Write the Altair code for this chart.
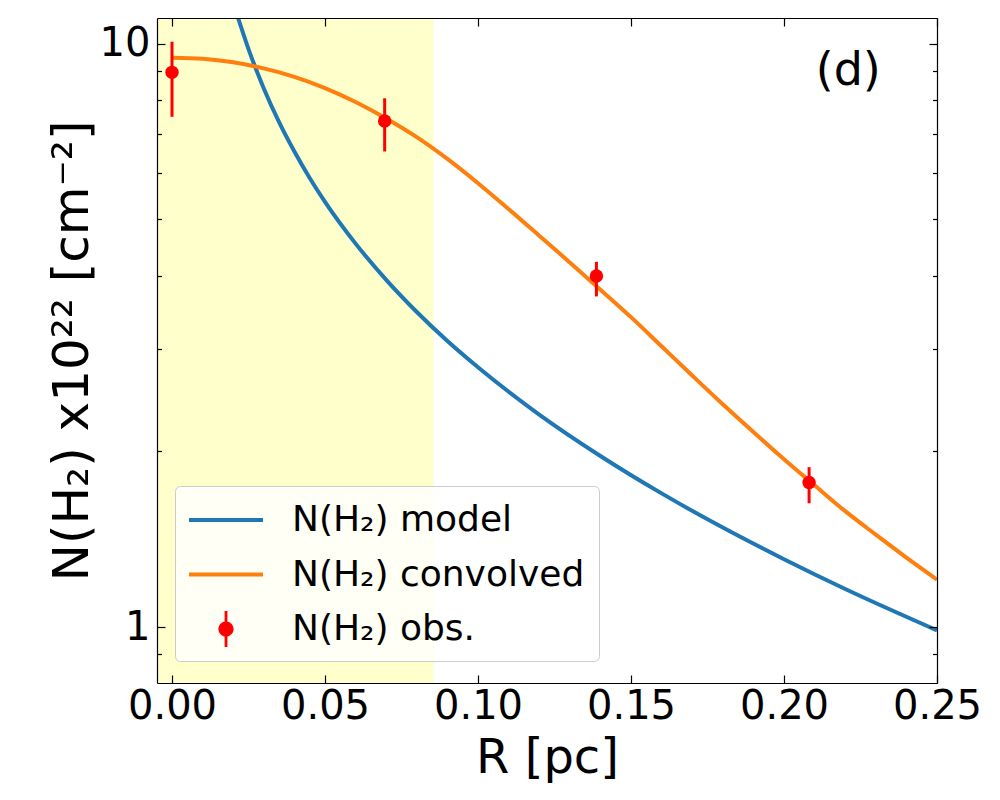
import altair as alt
import pandas as pd

# ---------------- data ----------------
model_R = [0.0216, 0.025, 0.03, 0.035, 0.04, 0.045, 0.05, 0.06, 0.07, 0.08, 0.09,
           0.10, 0.12, 0.14, 0.16, 0.18, 0.20, 0.22, 0.25]
model_N = [11.08, 9.80, 8.39, 7.345, 6.54, 5.89, 5.36, 4.545, 3.94, 3.47, 3.095,
           2.79, 2.314, 1.965, 1.695, 1.481, 1.307, 1.162, 0.987]

conv_R = [0.0, 0.01, 0.02, 0.03, 0.04, 0.05, 0.06, 0.07, 0.08, 0.09, 0.10, 0.11, 0.12,
          0.13, 0.14, 0.15, 0.16, 0.17, 0.18, 0.19, 0.20, 0.21, 0.22, 0.23, 0.24, 0.25]
conv_N = [9.47, 9.43, 9.30, 9.08, 8.78, 8.40, 7.95, 7.45, 6.92, 6.35, 5.77, 5.21, 4.69,
          4.22, 3.79, 3.40, 3.03, 2.70, 2.41, 2.16, 1.94, 1.75, 1.58, 1.44, 1.315, 1.206]

obs_R = [0.0, 0.0695, 0.1387, 0.2082]
obs_N = [8.94, 7.38, 4.00, 1.77]
obs_lo = [7.50, 6.54, 3.69, 1.63]
obs_hi = [10.09, 8.07, 4.23, 1.88]

shade_R = [-0.0049, 0.0855]
x_domain = [-0.0049, 0.25]
y_domain = [0.8016, 11.08]
x_ticks = [0.0, 0.05, 0.10, 0.15, 0.20, 0.25]
y_major = [1, 10]
y_ticks = [0.9, 1, 2, 3, 4, 5, 6, 7, 8, 9, 10]

series_names = ["N(H\u2082) model", "N(H\u2082) convolved", "N(H\u2082) obs."]
series_colors = ["#1f77b4", "#ff7f0e", "#ff0000"]

panel_text = ["(d)"]
panel_R = [0.221]
panel_N = [8.5]

x_title = "R [pc]"
y_title = "N(H\u2082) x10\u00b2\u00b2 [cm\u207b\u00b2]"

# ---------------- tables ----------------
model_df = pd.DataFrame({"R": model_R, "N": model_N, "series": series_names[0]})
conv_df = pd.DataFrame({"R": conv_R, "N": conv_N, "series": series_names[1]})
obs_df = pd.DataFrame({"R": obs_R, "N": obs_N, "lo": obs_lo, "hi": obs_hi,
                       "series": series_names[2]})
all_df = pd.concat([model_df, conv_df, obs_df[["R", "N", "series"]]], ignore_index=True)
shade_df = pd.DataFrame({"x0": [shade_R[0]], "x1": [shade_R[1]],
                         "y0": [y_domain[0]], "y1": [y_domain[1]]})
panel_df = pd.DataFrame({"R": panel_R, "N": panel_N, "t": panel_text})

W, H = 780, 665
FONT = "DejaVu Sans"

xs = alt.Scale(domain=x_domain, nice=False, zero=False)
ys = alt.Scale(type="log", domain=y_domain, nice=False)

major_cond = {"condition": {"test": "datum.value == 1 || datum.value == 10", "value": 8},
              "value": 4.5}

# axes with labels/titles (bottom + left)
axA_x = alt.Axis(values=x_ticks, format=".2f", ticks=False, tickSize=0, domain=True,
                 domainColor="black", domainWidth=1.2, grid=False, zindex=1,
                 labelFont=FONT, labelFontSize=40, labelColor="black", labelPadding=3,
                 labelFlush=False, labelOverlap=False,
                 title=x_title, titleFont=FONT, titleFontSize=48, titleFontWeight="normal",
                 titleColor="black", titleX=390, titleY=89.5, titleBaseline="alphabetic",
                 titleAlign="center")
axA_y = alt.Axis(values=y_major, format="d", ticks=False, tickSize=0, domain=True,
                 domainColor="black", domainWidth=1.2, grid=False, zindex=1,
                 labelFont=FONT, labelFontSize=40, labelColor="black", labelPadding=7,
                 labelFlush=False, labelOverlap=False,
                 title=y_title, titleFont=FONT, titleFontSize=50, titleFontWeight="normal",
                 titleColor="black", titleAngle=270, titleX=-70, titleY=332.5,
                 titleBaseline="alphabetic", titleAlign="center")
# inward ticks on bottom + left
axB_x = alt.Axis(orient="top", offset=-H, values=x_ticks, labels=False, domain=False,
                 ticks=True, tickSize=8, tickColor="black", tickWidth=1.2, grid=False,
                 zindex=1, title=None)
axB_y = alt.Axis(orient="right", offset=-W, values=y_ticks, labels=False, domain=False,
                 ticks=True, tickSize=major_cond, tickColor="black", tickWidth=1.2,
                 grid=False, zindex=1, title=None)
# inward ticks on top + right, with borders
axC_x = alt.Axis(orient="bottom", offset=-H, values=x_ticks, labels=False, domain=True,
                 domainColor="black", domainWidth=1.2,
                 ticks=True, tickSize=8, tickColor="black", tickWidth=1.2, grid=False,
                 zindex=1, title=None)
axC_y = alt.Axis(orient="left", offset=-W, values=y_ticks, labels=False, domain=True,
                 domainColor="black", domainWidth=1.2,
                 ticks=True, tickSize=major_cond, tickColor="black", tickWidth=1.2,
                 grid=False, zindex=1, title=None)

shade = alt.Chart(shade_df).mark_rect(color="#ffffcc", opacity=1).encode(
    x=alt.X("x0:Q", scale=xs, axis=axA_x),
    x2="x1:Q",
    y=alt.Y("y0:Q", scale=ys, axis=axA_y),
    y2="y1:Q",
)

model_line = alt.Chart(model_df).mark_line(color=series_colors[0], strokeWidth=4,
                                           interpolate="monotone", clip=True).encode(
    x=alt.X("R:Q", scale=xs, axis=axB_x),
    y=alt.Y("N:Q", scale=ys, axis=axB_y),
)

conv_line = alt.Chart(conv_df).mark_line(color=series_colors[1], strokeWidth=4,
                                         interpolate="monotone", clip=True).encode(
    x=alt.X("R:Q", scale=xs, axis=axC_x),
    y=alt.Y("N:Q", scale=ys, axis=axC_y),
)

err = alt.Chart(obs_df).mark_rule(color=series_colors[2], strokeWidth=3).encode(
    x=alt.X("R:Q", scale=xs, axis=None),
    y=alt.Y("lo:Q", scale=ys, axis=None),
    y2="hi:Q",
)

pts = alt.Chart(obs_df).mark_circle(color=series_colors[2], size=180, opacity=1).encode(
    x=alt.X("R:Q", scale=xs, axis=None),
    y=alt.Y("N:Q", scale=ys, axis=None),
)

line_path = "M-1,-0.1L2.7,-0.1L2.7,0.1L-1,0.1Z"
obs_path = ("M1.23,0A0.38,0.38,0,1,1,0.47,0A0.38,0.38,0,1,1,1.23,0Z"
            "M0.78,-0.9L0.92,-0.9L0.92,0.9L0.78,0.9Z")

leg = alt.Legend(orient="none", legendX=18, legendY=468, title=None, direction="vertical",
                 symbolSize=1600, symbolStrokeWidth=0, symbolOpacity=1,
                 labelFont=FONT, labelFontSize=36, labelColor="black", labelOffset=63,
                 labelLimit=600, padding=14, rowPadding=16.5,
                 fillColor="rgba(255,255,255,0.8)", strokeColor="#cccccc", cornerRadius=5)

legend_layer = alt.Chart(all_df).mark_point(filled=True, opacity=0).encode(
    x=alt.X("R:Q", scale=xs, axis=None),
    y=alt.Y("N:Q", scale=ys, axis=None),
    color=alt.Color("series:N", scale=alt.Scale(domain=series_names, range=series_colors),
                    legend=leg),
    shape=alt.Shape("series:N", scale=alt.Scale(domain=series_names,
                                                range=[line_path, line_path, obs_path]),
                    legend=leg),
)

panel = alt.Chart(panel_df).mark_text(font=FONT, fontSize=46, align="center",
                                      baseline="alphabetic", color="black").encode(
    x=alt.X("R:Q", scale=xs, axis=None),
    y=alt.Y("N:Q", scale=ys, axis=None),
    text="t:N",
)

chart = alt.layer(shade, model_line, conv_line, err, pts, legend_layer, panel).resolve_axis(
    x="independent", y="independent"
).properties(
    width=W, height=H,
    autosize=alt.AutoSizeParams(type="none"),
    padding={"left": 149, "top": 10, "right": 55, "bottom": 109},
    background="white",
).configure_view(stroke=None)

chart.save("out.html", embed_options={"renderer": "svg", "actions": False})
